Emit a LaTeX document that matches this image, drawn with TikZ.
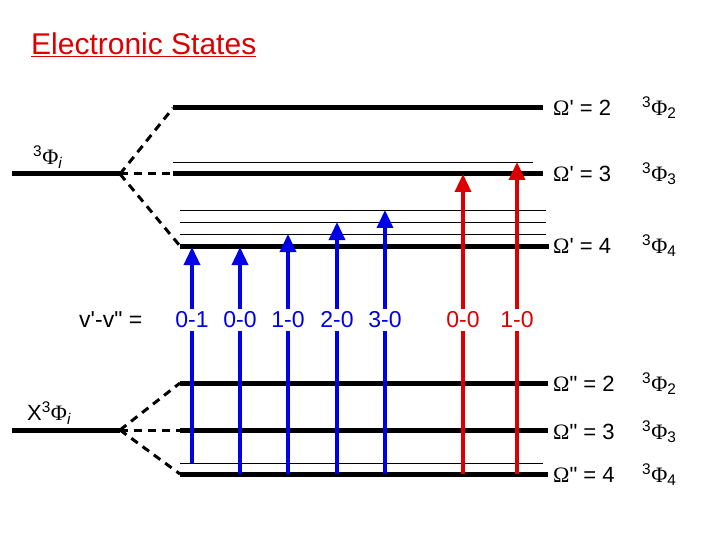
\documentclass[tikz,border=0pt]{standalone}
\usepackage{fontspec}
\setmainfont{Liberation Sans}
\newfontfamily\gr{Liberation Serif}
\usetikzlibrary{arrows.meta}
\definecolor{myblue}{RGB}{0,0,230}
\definecolor{myred}{RGB}{220,0,0}
\newcommand\PhiT[1]{\textsuperscript{3}{\gr Φ}\textsubscript{#1}}
\newcommand\sq{\textquotesingle}
\newcommand\dq{\textquotedbl}
\begin{document}
\begin{tikzpicture}[x=1pt,y=-1pt,
  lev/.style={line width=5pt},
  thin/.style={line width=0.8pt},
  dsh/.style={line width=3pt,dash pattern=on 8pt off 6pt},
  up/.style={line width=3.5pt,-{Triangle[length=18pt,width=16pt]}},
  lab/.style={font=\fontsize{22}{24}\selectfont,anchor=west,inner sep=0pt},
  tr/.style={font=\fontsize{23}{25}\selectfont,inner sep=3pt}]
\useasboundingbox (0,0) rectangle (720,540);
\node[anchor=south west,inner sep=0pt,text=myred,font=\fontsize{30}{32}\selectfont] (title) at (31,57) {\underline{Electronic States}};
% upper state
\draw[lev] (12,174) coordinate (uL) -- (120,174) coordinate (uS);
\node[lab] (uname) at (33,157) {\PhiT{\textit{i}}};
\coordinate (u2a) at (173,108); \coordinate (u2b) at (543,108);
\coordinate (u3a) at (173,174); \coordinate (u3b) at (543,174);
\coordinate (u4a) at (180,246); \coordinate (u4b) at (549,246);
\draw[lev] (u2a) -- (u2b); \draw[lev] (u3a) -- (u3b); \draw[lev] (u4a) -- (u4b);
\draw[thin] (173,162) -- (533,162);
\foreach \y in {210,222,234} \draw[thin] (180,\y) -- (546,\y);
\draw[dsh] (uS) -- (u2a); \draw[dsh] (uS) -- (u3a); \draw[dsh] (uS) -- (u4a);
\node[lab] (o2) at (553,108) {{\gr Ω}\sq{} = 2};
\node[lab] (o3) at (553,174) {{\gr Ω}\sq{} = 3};
\node[lab] (o4) at (553,246) {{\gr Ω}\sq{} = 4};
\node[lab] (p2) at (642,108) {\PhiT{2}};
\node[lab] (p3) at (642,174) {\PhiT{3}};
\node[lab] (p4) at (642,246) {\PhiT{4}};
% lower state
\draw[lev] (12,430) coordinate (lL) -- (120,430) coordinate (lS);
\node[lab] (lname) at (27,413) {X\PhiT{\textit{i}}};
\coordinate (l2a) at (180,383); \coordinate (l2b) at (548,383);
\coordinate (l3a) at (180,430); \coordinate (l3b) at (548,430);
\coordinate (l4a) at (180,474); \coordinate (l4b) at (548,474);
\draw[lev] (l2a) -- (l2b); \draw[lev] (l3a) -- (l3b); \draw[lev] (l4a) -- (l4b);
\draw[thin] (180,463) -- (543,463);
\draw[dsh] (lS) -- (l2a); \draw[dsh] (lS) -- (l3a); \draw[dsh] (lS) -- (l4a);
\node[lab] (q2) at (553,384) {{\gr Ω}\dq{} = 2};
\node[lab] (q3) at (553,432) {{\gr Ω}\dq{} = 3};
\node[lab] (q4) at (553,475) {{\gr Ω}\dq{} = 4};
\node[lab] (r2) at (642,384) {\PhiT{2}};
\node[lab] (r3) at (642,432) {\PhiT{3}};
\node[lab] (r4) at (642,475) {\PhiT{4}};
\node[tr,anchor=west,inner sep=0pt] (vv) at (79,320) {v\sq-v\dq{} =};
% transitions
\foreach \n/\x/\lo/\hi/\c/\t in {a/192/463/247/myblue/0-1, b/240/474/247/myblue/0-0, c/288/474/234/myblue/1-0, d/337/474/222/myblue/2-0, e/385/474/210/myblue/3-0, f/463/474/174/myred/0-0, g/517/474/162/myred/1-0}{
  \node[tr,text=\c] (t\n) at (\x,320) {\t};
  \coordinate (b\n) at (\x,\lo); \coordinate (h\n) at (\x,\hi);
  \draw[line width=3.5pt,\c] (b\n) -- (t\n.south);
  \draw[up,\c] (t\n.north) -- (h\n);
}
\end{tikzpicture}
\end{document}
